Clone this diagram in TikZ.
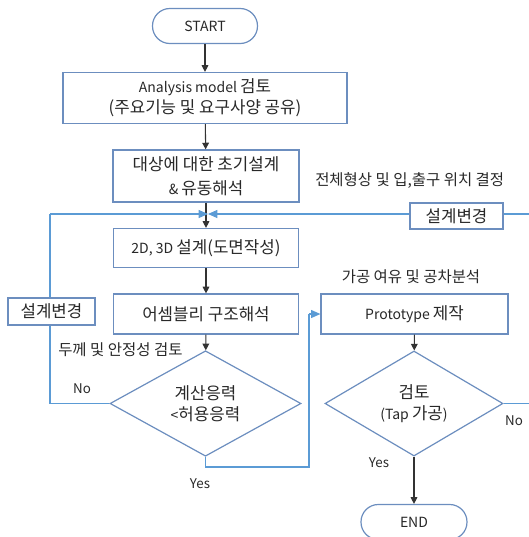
\documentclass[tikz,border=0pt]{standalone}
\usepackage{fontspec}
\setmainfont{Noto Sans CJK KR}
\usetikzlibrary{shapes.geometric,arrows.meta}
\definecolor{bord}{RGB}{108,142,191}
\definecolor{fb}{RGB}{91,155,213}
\definecolor{txt}{RGB}{40,40,40}
\newcommand\Kb[1]{{\fontsize{12.6pt}{16pt}\selectfont #1}}
\newcommand\Kl[1]{{\fontsize{11.6pt}{14pt}\selectfont #1}}
\tikzset{
  box/.style={draw=bord, line width=0.9pt, fill=white, inner sep=1pt, align=center, text=txt, font=\fontsize{10.5pt}{16pt}\selectfont},
  term/.style={box, rounded corners=13pt},
  dec/.style={draw=bord, line width=0.9pt, fill=white, shape=diamond, inner sep=0pt, align=center, text=txt, font=\fontsize{10.5pt}{15.5pt}\selectfont},
  flow/.style={draw=black!80, line width=0.8pt, -{Triangle[length=5pt,width=5pt]}},
  fbline/.style={draw=fb, line width=0.8pt},
  fbarrow/.style={fbline, -{Triangle[length=7pt,width=6pt]}},
  lbl/.style={text=txt, font=\fontsize{10pt}{12pt}\selectfont, inner sep=0pt},
}
\begin{document}
\begin{tikzpicture}[x=0.75pt,y=-0.75pt]
\useasboundingbox (0,0) rectangle (529,537);
\clip (0,0) rectangle (529,537);
% nodes
\node[term, minimum width=78.75pt, minimum height=26.25pt] (start) at (205,26) {START};
\node[box, minimum width=213pt, minimum height=38.25pt] (ana) at (205,98) {Analysis model \Kb{검토}\\\Kb{(주요기능 및 요구사양 공유)}};
\node[box, minimum width=139.5pt, minimum height=39pt, font=\fontsize{10.5pt}{18pt}\selectfont] (init) at (206,176) {\Kb{대상에 대한 초기설계}\\\& \Kb{유동해석}};
\node[box, minimum width=138.75pt, minimum height=29.25pt] (d2) at (206,248) {2D, 3D \Kb{설계(도면작성)}};
\node[box, minimum width=138.75pt, minimum height=30pt] (asm) at (206,314) {\Kb{어셈블리 구조해석}};
\node[box, minimum width=140.25pt, minimum height=30pt] (proto) at (414.5,314) {Prototype \Kb{제작}};
\node[dec, minimum width=143.25pt, minimum height=60.75pt] (dia1) at (205.5,403.5) {\Kb{계산응력}\\<\Kb{허용응력}};
\node[dec, minimum width=133.5pt, minimum height=60.75pt] (dia2) at (414,403.5) {\Kb{검토}\\(Tap \Kb{가공})};
\node[term, minimum width=79.5pt, minimum height=26.25pt] (end) at (414,522) {END};
% labels
\node[lbl, anchor=west] (l1) at (315,181) {\Kl{전체형상 및 입,출구 위치 결정}};
\node[lbl, anchor=center] (l2) at (411,277) {\Kl{가공 여유 및 공차분석}};
\node[lbl, anchor=west] (l3) at (58,350) {\Kl{두께 및 안정성 검토}};
\node[lbl, anchor=center] (no1) at (82,389) {No};
\node[lbl, anchor=center] (yes1) at (200,484) {Yes};
\node[lbl, anchor=center] (no2) at (514,421) {No};
\node[lbl, anchor=center] (yes2) at (379,463) {Yes};
% main flow
\draw[flow] (start) -- (ana);
\draw[flow] (ana) -- (init);
\draw[flow] (init.south -| d2.north) -- (d2);
\draw[flow] (d2) -- (asm);
\draw[flow] (asm) -- (dia1);
\draw[flow] (proto) -- (dia2);
\draw[flow] (dia2) -- (end);
% yes path from dia1 to prototype
\draw[fbline] (dia1.south) |- (309,467) -- (309,314) coordinate (py);
\draw[fbarrow] (py) -- (proto.west);
% left feedback
\draw[fbline] (dia1.west) -- (50,403.5) -- (50,214);
\draw[fbarrow] (50,214) -- (208,214);
\node[box, minimum width=65.25pt, minimum height=20.25pt] (chgL) at (51.5,311.5) {\Kb{설계변경}};
% right feedback
\draw[fbline] (dia2.east) -- (540,403.5) -- (540,214);
\draw[fbarrow] (540,214) -- (208,214);
\node[box, minimum width=69.75pt, minimum height=19.5pt] (chgR) at (456.5,216) {\Kb{설계변경}};
\end{tikzpicture}
\end{document}
